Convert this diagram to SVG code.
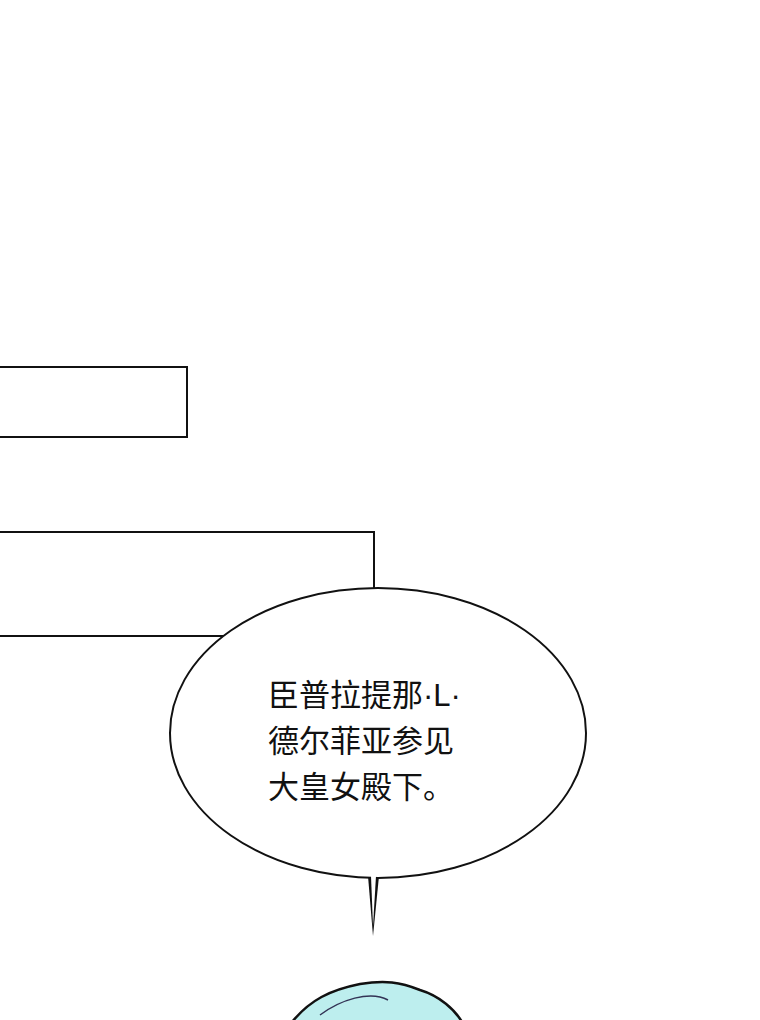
<svg xmlns="http://www.w3.org/2000/svg" width="760" height="1020" viewBox="0 0 760 1020">
<style>
.ln{fill:none;stroke:#111;stroke-width:2}
.bub{fill:#fff;stroke:#111;stroke-width:2}
.t{font-family:"Noto Sans CJK SC","Noto Sans",sans-serif;font-size:31px;fill:#111}
.n{font-family:"Liberation Sans","Noto Sans CJK SC",sans-serif}
</style>
<rect width="760" height="1020" fill="#fff"/>
<g id="panel1"><rect class="ln" x="-2" y="367" width="189" height="70"/></g>
<g id="panel2"><path class="ln" d="M0 532 H374 V600 M0 636 H230"/></g>
<g id="bubble">
<path d="M368 876 L373 936 L379 876 Z" fill="#111"/>
<ellipse class="bub" cx="378" cy="733" rx="208" ry="145"/>
<path d="M371 876 L373 926 L376 876 Z" fill="#fff"/>
<text class="t" x="268" y="706">臣普拉提那<tspan class="n">·L·</tspan></text>
<text class="t" x="268" y="752">德尔菲亚参见</text>
<text class="t" x="268" y="798">大皇女殿下。</text>
</g>
<g id="figure">
<path d="M292 1022 C310 1000 330 990 360 984 C385 980 400 982 420 990 C440 996 455 1010 462 1022 Z" fill="#bdeeee" stroke="#111" stroke-width="2.5"/>
<path d="M320 1015 C340 1000 370 990 388 1000" fill="none" stroke="#335" stroke-width="1.5"/>
</g>
</svg>
